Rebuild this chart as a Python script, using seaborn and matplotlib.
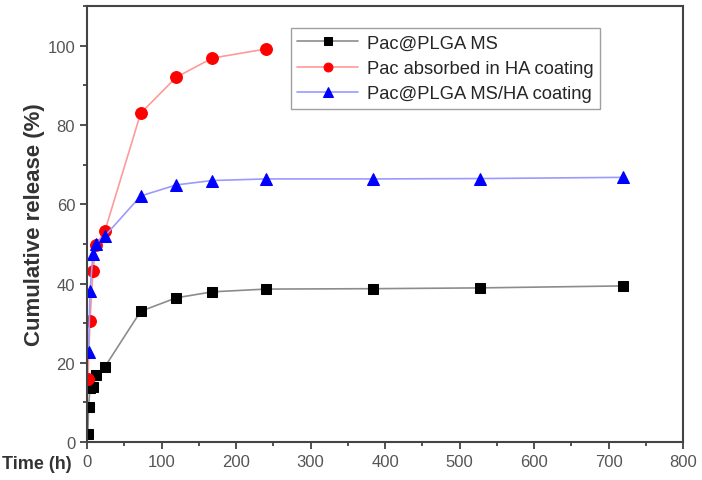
import matplotlib
matplotlib.use("Agg")
import matplotlib.pyplot as plt
import seaborn as sns
from matplotlib.ticker import MultipleLocator

# datos
t_ms = [1, 2, 4, 8, 12, 24, 72, 120, 168, 240, 384, 528, 720]
rel_ms = [2.0, 8.8, 13.6, 13.8, 16.8, 19.0, 33.0, 36.4, 37.9, 38.6, 38.7, 38.9, 39.4]

t_ha = [1, 4, 8, 12, 24, 72, 120, 168, 240]
rel_ha = [15.9, 30.6, 43.2, 49.7, 53.3, 83.0, 92.1, 96.9, 99.2]

t_msha = [2, 4, 8, 12, 24, 72, 120, 168, 240, 384, 528, 720]
rel_msha = [22.7, 38.0, 47.5, 50.0, 52.0, 62.1, 64.9, 66.0, 66.4, 66.4, 66.5, 66.8]

labels = ["Pac@PLGA MS", "Pac absorbed in HA coating", "Pac@PLGA MS/HA coating"]

sns.set_style("ticks")
plt.rcParams["font.family"] = ["Liberation Sans", "DejaVu Sans"]

fig = plt.figure(figsize=(7.02, 4.81), dpi=100)
ax = fig.add_axes([0.124, 0.079, 0.849, 0.906])

sns.lineplot(x=t_ms, y=rel_ms, ax=ax, color="#8c8c8c", lw=1.2, marker="s",
             markersize=7.5, markerfacecolor="black", markeredgecolor="black", label=labels[0])
sns.lineplot(x=t_ha, y=rel_ha, ax=ax, color="#ff9a9a", lw=1.2, marker="o",
             markersize=8.5, markerfacecolor="red", markeredgecolor="red", label=labels[1])
sns.lineplot(x=t_msha, y=rel_msha, ax=ax, color="#9a9aff", lw=1.2, marker="^",
             markersize=9, markerfacecolor="blue", markeredgecolor="blue", label=labels[2])

ax.set_xlim(0, 800)
ax.set_ylim(0, 110)
ax.xaxis.set_major_locator(MultipleLocator(100))
ax.xaxis.set_minor_locator(MultipleLocator(50))
ax.yaxis.set_major_locator(MultipleLocator(20))
ax.yaxis.set_minor_locator(MultipleLocator(10))
ax.tick_params(which="major", length=5, width=1.2, labelsize=12, labelcolor="#555555", color="#333333")
ax.tick_params(which="minor", length=3, width=1.2, color="#333333")
for s in ax.spines.values():
    s.set_linewidth(1.5)
    s.set_color("#444444")

ax.set_ylabel("Cumulative release (%)", fontsize=16, fontweight="bold", color="#333333", labelpad=2)
ax.set_xlabel("")
fig.text(0.003, 0.035, "Time (h)", fontsize=13, fontweight="bold", color="#333333", va="center")

leg = ax.legend(loc="upper right", bbox_to_anchor=(0.876, 0.97), fontsize=13.2,
                frameon=True, fancybox=False, borderpad=0.35, labelspacing=0.45,
                handlelength=3.3, handletextpad=0.5, markerscale=0.75)
leg.get_frame().set_edgecolor("#888888")
leg.get_frame().set_linewidth(1.0)

plt.savefig("out.png", dpi=100)
